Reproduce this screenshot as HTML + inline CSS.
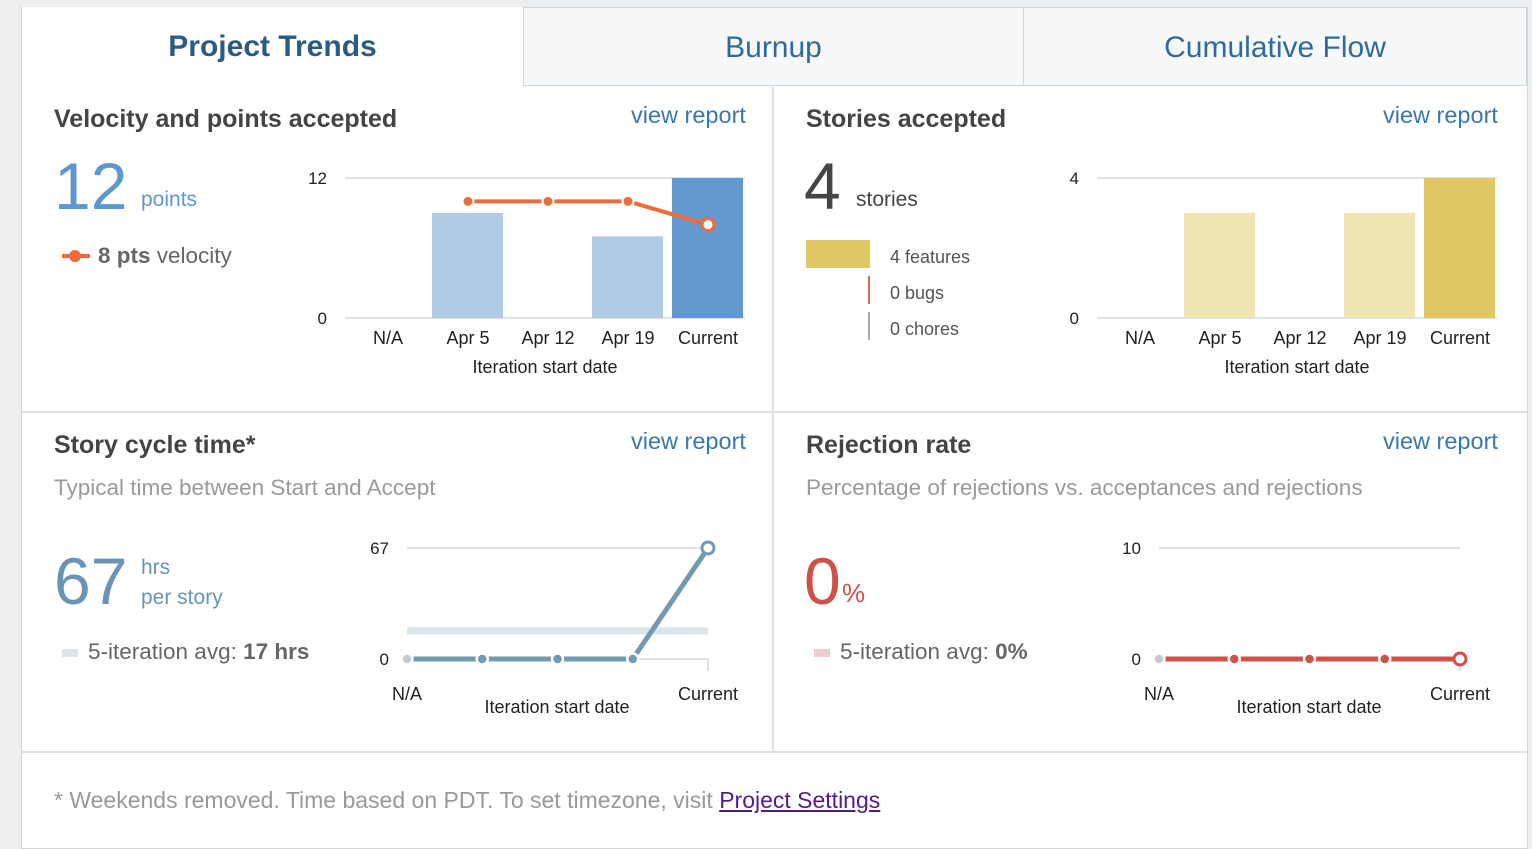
<!DOCTYPE html>
<html><head><meta charset="utf-8">
<style>
body{margin:0;width:1532px;height:838px;background:#eceef0;font-family:"Liberation Sans",sans-serif;overflow:hidden;position:relative}
.a{position:absolute;white-space:nowrap}
#panel{position:absolute;left:21px;top:7px;width:1505px;height:840px;background:#fff;border:1px solid #cfd6dc}
.tab{position:absolute;top:7px;height:79px;line-height:80px;text-align:center;font-size:30px;color:#2f6a9a;background:#f6f8fa;border:1px solid #cfd6dc;box-sizing:border-box}
.title{font-size:25px;color:#444;font-weight:bold}
.vr{font-size:23.5px;color:#3a77aa}
.sub{font-size:22.5px;color:#9a9a9a}
</style></head><body>
<div id="panel"></div>
<div class="tab" style="left:22px;width:501px;background:#fff;border:none;font-weight:bold;color:#2c5b82">Project Trends</div>
<div class="tab" style="left:523px;width:501px">Burnup</div>
<div class="tab" style="left:1023px;width:504px">Cumulative Flow</div>
<div class="a" style="left:772px;top:87px;width:2px;height:665px;background:#dde2e6"></div>
<div class="a" style="left:22px;top:411px;width:1505px;height:2px;background:#dde2e6"></div>
<div class="a" style="left:22px;top:751px;width:1505px;height:2px;background:#dde2e6"></div>

<div class="a title" style="left:54px;top:105px">Velocity and points accepted</div>
<div class="a vr" style="left:631px;top:102px">view report</div>
<div class="a" style="left:54px;top:148px;font-size:66px;color:#5c97d0">12</div>
<div class="a" style="left:141px;top:188px;font-size:21px;color:#5c97d0">points</div>
<div class="a" style="left:62px;top:254px;width:28px;height:4px;background:#ef6c3a"></div>
<div class="a" style="left:69px;top:250px;width:12px;height:12px;border-radius:50%;background:#ef6c3a"></div>
<div class="a" style="left:98px;top:243px;font-size:22.5px;color:#666"><b>8 pts</b> velocity</div>

<div class="a title" style="left:806px;top:105px">Stories accepted</div>
<div class="a vr" style="left:1383px;top:102px">view report</div>
<div class="a" style="left:804px;top:148px;font-size:66px;color:#444">4</div>
<div class="a" style="left:856px;top:188px;font-size:21px;color:#444">stories</div>
<div class="a" style="left:806px;top:240px;width:64px;height:28px;background:#dfc865"></div>
<div class="a" style="left:890px;top:247px;font-size:18px;color:#555">4 features</div>
<div class="a" style="left:868px;top:276px;width:2px;height:28px;background:#d0704f"></div>
<div class="a" style="left:890px;top:283px;font-size:18px;color:#555">0 bugs</div>
<div class="a" style="left:868px;top:312px;width:2px;height:28px;background:#aaa"></div>
<div class="a" style="left:890px;top:319px;font-size:18px;color:#555">0 chores</div>

<div class="a title" style="left:54px;top:431px">Story cycle time*</div>
<div class="a vr" style="left:631px;top:428px">view report</div>
<div class="a sub" style="left:54px;top:475px">Typical time between Start and Accept</div>
<div class="a" style="left:54px;top:543px;font-size:66px;color:#6b93b3">67</div>
<div class="a" style="left:141px;top:553px;font-size:21px;line-height:30px;color:#6b93b3">hrs<br>per story</div>
<div class="a" style="left:62px;top:649px;width:16px;height:8px;background:#dbe5ec"></div>
<div class="a" style="left:88px;top:639px;font-size:22.5px;color:#666">5-iteration avg: <b>17 hrs</b></div>

<div class="a title" style="left:806px;top:431px">Rejection rate</div>
<div class="a vr" style="left:1383px;top:428px">view report</div>
<div class="a sub" style="left:806px;top:475px">Percentage of rejections vs. acceptances and rejections</div>
<div class="a" style="left:804px;top:543px;font-size:66px;color:#d0504a">0</div>
<div class="a" style="left:842px;top:578px;font-size:26px;color:#d0504a">%</div>
<div class="a" style="left:814px;top:649px;width:16px;height:8px;background:#f2cccc"></div>
<div class="a" style="left:840px;top:639px;font-size:22.5px;color:#666">5-iteration avg: <b>0%</b></div>

<div class="a" style="left:54px;top:787px;font-size:23px;color:#999">* Weekends removed. Time based on PDT. To set timezone, visit <span style="color:#551a8b;text-decoration:underline">Project Settings</span></div>

<svg id="c" class="a" style="left:0;top:0" width="1532" height="838"></svg>
<script>
const barCats=["N/A","Apr 5","Apr 12","Apr 19","Current"];
const pointsAccepted=[0,9,0,7,12];
const velocity=[null,10,10,10,8];
const storiesAccepted=[0,3,0,3,4];
const cycleTime=[0,0,0,0,67];
const cycleAvg=[17];
const rejection=[0,0,0,0,0];
const velTicks=[0,12];const storyTicks=[0,4];const cycleTicks=[0,67];const rejTicks=[0,10];
const NS="http://www.w3.org/2000/svg";const svg=document.getElementById('c');
function mk(t,a,txt){const e=document.createElementNS(NS,t);for(const k in a)e.setAttribute(k,a[k]);if(txt!=null)e.textContent=txt;svg.appendChild(e);return e;}
function barChart(x0,cats,vals,ticks,light,dark,line,nm){
  const y0=318,y1=178,max=ticks[ticks.length-1];const ys=v=>y0-(v/max)*(y0-y1);const xs=i=>x0+42+i*80;
  ticks.forEach(t=>{const g=mk('line',{x1:x0,x2:x0+400,y1:ys(t),y2:ys(t),stroke:'#dde2e6','stroke-width':2});
    
    const l=mk('text',{x:x0-18,y:ys(t)+6,'text-anchor':'end','font-size':17,fill:'#222'},t);
    });
  vals.forEach((v,i)=>{if(v>0){const r=mk('rect',{x:xs(i)-35,y:ys(v),width:71,height:y0-ys(v),fill:i==vals.length-1?dark:light});
    }
    const l=mk('text',{x:xs(i)+1,y:344,'text-anchor':'middle','font-size':18,fill:'#222'},cats[i]);
    });
  const at=mk('text',{x:x0+200,y:373,'text-anchor':'middle','font-size':18,fill:'#222'},'Iteration start date');
  
  if(line){const p=[];line.forEach((v,i)=>{if(v!=null)p.push([xs(i)+1,ys(v)]);});
    const pl=mk('polyline',{points:p.map(q=>q.join(',')).join(' '),fill:'none',stroke:'#ef6c3a','stroke-width':4});
    
    p.forEach((q,i)=>{const last=i==p.length-1;const c=mk('circle',{cx:q[0],cy:q[1],r:last?6:5.5,fill:last?'#fff':'#ef6c3a',stroke:last?'#ef6c3a':'#fff','stroke-width':last?3:2});
      });}
}
barChart(345,barCats,pointsAccepted,velTicks,'#b0cbe5','#6399d0',velocity,'velocity');
barChart(1097,barCats,storiesAccepted,storyTicks,'#efe4b2','#dfc865',null,'stories');
function lineChart(x0,vals,ticks,color,avg,nm){
  const y0=659,y1=548,max=ticks[ticks.length-1];const ys=v=>y0-(v/max)*(y0-y1);const xs=i=>x0+i*75.25;
  const g=mk('line',{x1:x0,x2:x0+301,y1:y1,y2:y1,stroke:'#dde2e6','stroke-width':2});
  
  ticks.forEach(t=>{const l=mk('text',{x:x0-18,y:ys(t)+6,'text-anchor':'end','font-size':17,fill:'#222'},t);
    });
  const b=mk('polyline',{points:`${xs(3)},${y0} ${xs(4)},${y0} ${xs(4)},${y0+12}`,fill:'none',stroke:'#dde2e6','stroke-width':2});
  
  if(avg!=null){const a=mk('line',{x1:x0,x2:xs(4),y1:ys(avg),y2:ys(avg),stroke:'#dbe5ec','stroke-width':7});
    }
  const pts=vals.map((v,i)=>[xs(i),ys(v)]);
  const pl=mk('polyline',{points:pts.map(q=>q.join(',')).join(' '),fill:'none',stroke:color,'stroke-width':5});
  
  pts.forEach((q,i)=>{const last=i==pts.length-1;const c=mk('circle',{cx:q[0],cy:q[1],r:last?6:5.5,fill:last?'#fff':(i==0?'#c4c9ce':color),stroke:last?color:'#fff','stroke-width':last?3:2.5});
    });
  [['N/A',0],['Current',4]].forEach(([t,i])=>{const l=mk('text',{x:xs(i),y:700,'text-anchor':'middle','font-size':18,fill:'#222'},t);
    });
  const at=mk('text',{x:x0+150,y:713,'text-anchor':'middle','font-size':18,fill:'#222'},'Iteration start date');
  
}
lineChart(407,cycleTime,cycleTicks,'#7399b3',cycleAvg[0],'cycle');
lineChart(1159,rejection,rejTicks,'#d0504a',null,'rejection');
</script>
</body></html>
